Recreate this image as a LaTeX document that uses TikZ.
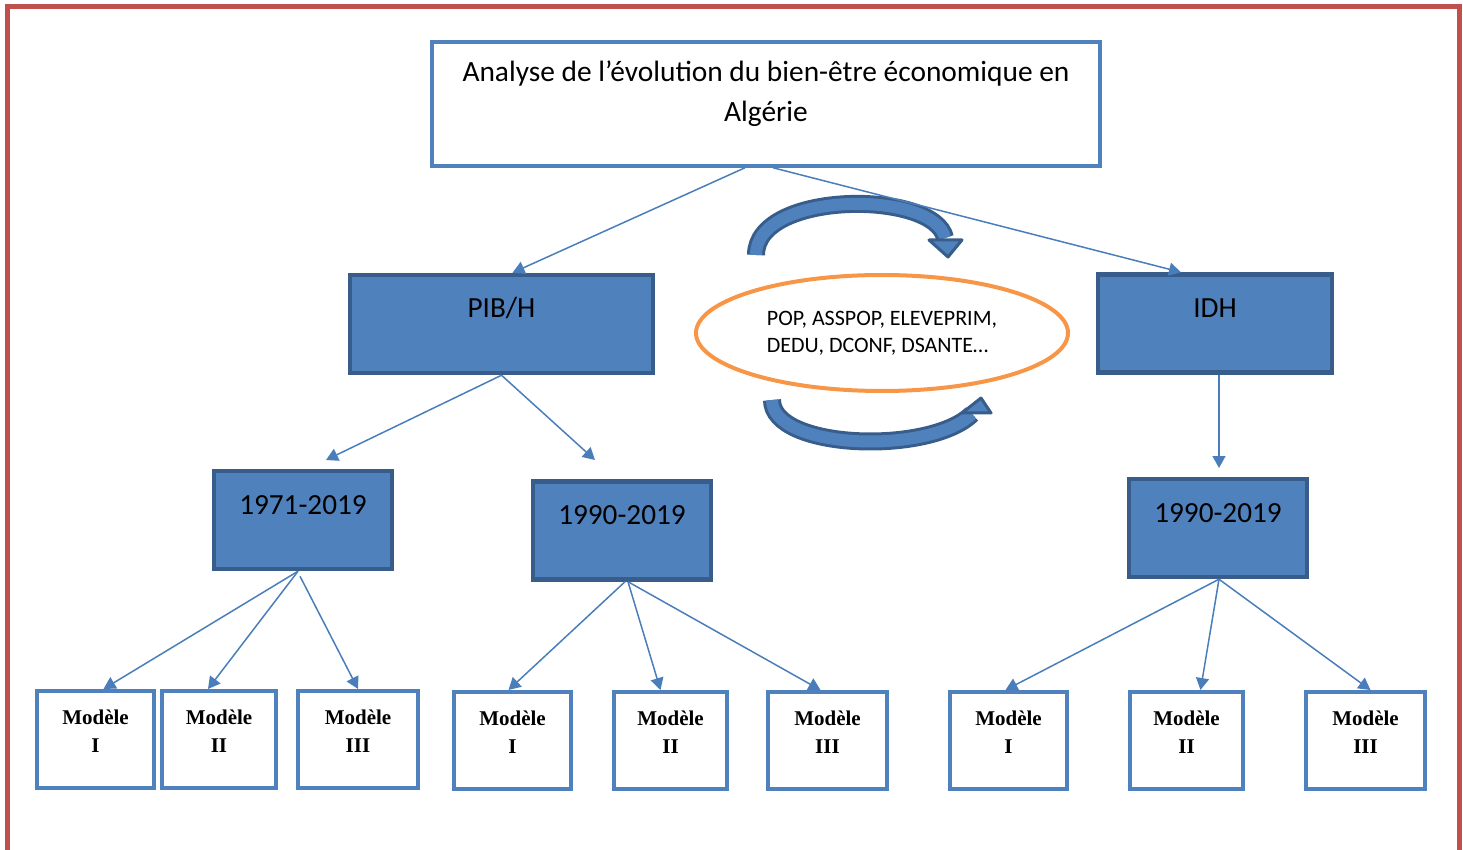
\documentclass[tikz,border=0pt]{standalone}
\usepackage{fontspec}
\setmainfont{Carlito}
\newfontfamily\modelefont{Liberation Serif}
\usetikzlibrary{arrows.meta,positioning,calc,shapes.geometric}
\definecolor{boxblue}{RGB}{79,129,189}
\definecolor{boxdark}{RGB}{56,93,138}
\definecolor{linkblue}{RGB}{74,126,187}
\definecolor{ovalorange}{RGB}{247,150,70}
\definecolor{framered}{RGB}{192,80,77}

\tikzset{
  titlebox/.style={draw=boxblue, line width=1.75pt, fill=white, minimum width=334pt, minimum height=62pt,
    align=center, font=\fontsize{14.7}{20}\selectfont, text height=30pt, text depth=12pt},
  bluebox/.style={draw=boxdark, line width=2.25pt, fill=boxblue, minimum height=49pt,
    font=\fontsize{14.6}{17}\selectfont, text height=10pt, text depth=16pt},
  modele/.style={draw=boxblue, line width=2pt, fill=white, minimum height=48.5pt, align=center,
    font=\modelefont\bfseries\fontsize{10.5}{14}\selectfont, text height=22pt, text depth=9.5pt},
  oval/.style={ellipse, draw=ovalorange, line width=2pt, inner sep=0pt, minimum width=186pt,
    minimum height=58pt, align=left, font=\fontsize{11}{13.5}\selectfont},
  link/.style={draw=linkblue, line width=0.75pt, -{Triangle[length=6pt,width=6.5pt]}},
  bendbody/.style={draw=boxblue, line width=6pt, preaction={draw=boxdark, line width=9pt}},
  bendhead/.style={fill=boxblue, draw=boxdark, line width=1.5pt, line join=round},
}

\begin{document}
\begin{tikzpicture}[x=0.5pt, y=-0.5pt]
 \useasboundingbox (0,0) rectangle (1463,850);
 % frame
 \draw[framered, line width=2.5pt] (7.5,850) -- (7.5,7) -- (1459.5,7) -- (1459.5,850);

 \node[titlebox] (title) at (766,104) {Analyse de l’évolution du bien-être économique en\\Algérie};
 \node[bluebox, minimum width=151.5pt] (pib) at (501.5,324) {PIB/H};
 \node[bluebox, minimum width=117pt] (idh) at (1215,323.5) {IDH};
 \node[oval] (vars) at (882,333) {POP, ASSPOP, ELEVEPRIM,\\DEDU, DCONF, DSANTE…};

 \node[bluebox, minimum width=89pt] (y71) at (303,520) {1971-2019};
 \node[bluebox, minimum width=89pt] (y90a) at (622,530.5) {1990-2019};
 \node[bluebox, minimum width=89pt] (y90b) at (1218,528) {1990-2019};

 \foreach \nm/\cx/\cy/\bw/\rom in {m1/95.5/739.5/58.5/I, m2/219/739.5/57/II, m3/358/739.5/60/III,
     m4/512.5/740.5/58.5/I, m5/670.5/740.5/56.5/II, m6/827.5/740.5/59.5/III,
     m7/1008.5/740.5/58.5/I, m8/1186.5/740.5/56.5/II, m9/1365.5/740.5/59.5/III}{
   \node[modele, minimum width=\bw pt] (\nm) at (\cx,\cy) {Modèle\\\rom};
 }

 % curved arrows round the oval
 \draw[bendbody] (756,255) .. controls (756,190) and (935,190) .. (945,238);
 \filldraw[bendhead] (929,240) -- (962,240) -- (948,257) -- cycle;
 \draw[bendbody] (772,400) .. controls (772,450) and (930,455) .. (972,414);
 \filldraw[bendhead] (962,413) -- (981,398) -- (991,413) -- cycle;

 % links
 \coordinate (pibL) at (326,460);
 \coordinate (pibR) at (595,460);
 \coordinate (idhD) at (1219,468);
 \draw[link] ($(title.south)+(-21,0)$) -- ($(pib.north)+(11,0)$);
 \draw[link] ($(title.south)+(7,0)$) -- ($(idh.north)+(-34,0)$);
 \draw[link] (pib.south) -- (pibL);
 \draw[link] (pib.south) -- (pibR);
 \draw[link] (idh.south -| idhD) -- (idhD);

 \draw[link] ($(y71.south)+(-5,0)$) -- ($(m1.north)+(8,0)$);
 \draw[link] ($(y71.south)+(-5,0)$) -- ($(m2.north)+(-11,0)$);
 \draw[link] ($(y71.south)+(-3,5)$) -- (m3.north);
 \draw[link] ($(y90a.south)+(3,0)$) -- ($(m4.north)+(-4,0)$);
 \draw[link] ($(y90a.south)+(6,0)$) -- ($(m5.north)+(-10,0)$);
 \draw[link] ($(y90a.south)+(6,0)$) -- ($(m6.north)+(-7,0)$);
 \draw[link] ($(y90b.south)+(1,0)$) -- ($(m7.north)+(-3,0)$);
 \draw[link] ($(y90b.south)+(1,0)$) -- ($(m8.north)+(14,0)$);
 \draw[link] ($(y90b.south)+(1,0)$) -- ($(m9.north)+(5,0)$);
\end{tikzpicture}
\end{document}
